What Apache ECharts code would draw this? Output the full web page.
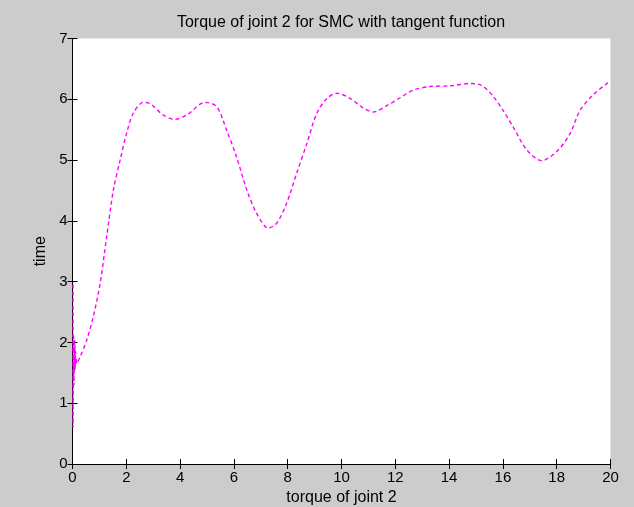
<!DOCTYPE html>
<html>
<head>
<meta charset="utf-8">
<script src="https://cdn.jsdelivr.net/npm/echarts@6/dist/echarts.min.js"></script>
<style>
  html, body { margin: 0; padding: 0; background: #cccccc; }
  #chart { width: 634px; height: 507px; }
</style>
</head>
<body>
<div id="chart"></div>
<script>
// Torque of joint 2 (x) against time (y), SMC with tangent switching function
var torque = [0.02, 0.02, 0.04, 0.05, 0.08, 0.03, 0.10, 0.06, 0.12, 0.09, 0.14, 0.15,
  0.28, 0.53, 0.77, 1.02, 1.27, 1.52, 1.77, 2.01, 2.26, 2.63, 2.88, 3.38, 3.81, 4.24,
  4.93, 5.36, 5.73, 6.10, 6.48, 6.85, 7.28, 7.59, 7.96, 8.33, 8.71, 9.08, 9.45, 9.82,
  10.3, 10.8, 11.18, 11.7, 12.2, 12.66, 13.29, 14.04, 14.78, 15.2, 15.6, 16.0, 16.4,
  16.9, 17.44, 18.0, 18.5, 18.87, 19.35, 19.9, 20.0];
var time = [2.95, 0.6, 2.1, 1.3, 2.05, 1.45, 1.95, 1.5, 1.85, 1.55, 1.75, 1.65,
  1.76, 2.04, 2.42, 2.95, 3.74, 4.51, 5.0, 5.44, 5.77, 5.95, 5.93, 5.74, 5.67, 5.74,
  5.95, 5.88, 5.49, 5.05, 4.51, 4.12, 3.88, 3.96, 4.29, 4.78, 5.27, 5.77, 6.01, 6.10,
  6.02, 5.86, 5.79, 5.90, 6.03, 6.15, 6.21, 6.22, 6.26, 6.23, 6.07, 5.82, 5.53,
  5.16, 4.99, 5.14, 5.44, 5.82, 6.07, 6.27, 6.29];

var xTicks = [0, 2, 4, 6, 8, 10, 12, 14, 16, 18, 20];
var yTicks = [0, 1, 2, 3, 4, 5, 6, 7];

var points = torque.map(function (t, i) { return [t, time[i]]; });

var font = 'Liberation Sans, Arial, Helvetica, sans-serif';
var chart = echarts.init(document.getElementById('chart'));

function xAxisCfg(pos, showLabels) {
  return {
    type: 'value', position: pos, min: xTicks[0], max: xTicks[xTicks.length - 1], interval: 2,
    axisLine: { show: true, lineStyle: { color: '#000', width: 1 } },
    axisTick: { show: true, inside: true, length: 5, lineStyle: { color: '#000' } },
    axisLabel: { show: showLabels, color: '#000', fontSize: 15, fontFamily: font, margin: 6 },
    splitLine: { show: false },
    name: showLabels ? 'torque of joint 2' : '',
    nameLocation: 'middle', nameGap: 25,
    nameTextStyle: { color: '#000', fontSize: 16, fontFamily: font }
  };
}
function yAxisCfg(pos, showLabels) {
  return {
    type: 'value', position: pos, min: yTicks[0], max: yTicks[yTicks.length - 1], interval: 1,
    axisLine: { show: true, lineStyle: { color: '#000', width: 1 } },
    axisTick: { show: true, inside: true, length: 5, lineStyle: { color: '#000' } },
    axisLabel: { show: showLabels, color: '#000', fontSize: 15, fontFamily: font, margin: 5 },
    splitLine: { show: false },
    name: showLabels ? 'time' : '',
    nameLocation: 'middle', nameGap: 24, nameRotate: 90,
    nameTextStyle: { color: '#000', fontSize: 16, fontFamily: font }
  };
}

chart.setOption({
  backgroundColor: '#cccccc',
  animation: false,
  title: {
    text: 'Torque of joint 2 for SMC with tangent function',
    left: 336, top: 10, textAlign: 'center',
    textStyle: { color: '#000', fontSize: 16, fontWeight: 'normal', fontFamily: font }
  },
  grid: {
    left: 72.5, right: 23.5, top: 38.5, bottom: 43,
    outerBoundsMode: 'none', containLabel: false,
    show: true, backgroundColor: '#ffffff', borderWidth: 0
  },
  xAxis: [xAxisCfg('bottom', true), xAxisCfg('top', false)],
  yAxis: [yAxisCfg('left', true), yAxisCfg('right', false)],
  series: [{
    type: 'line',
    data: points,
    showSymbol: false,
    smooth: 0.3,
    lineStyle: { color: '#ff00ff', width: 1.4, type: [4, 3] }
  }]
});
</script>
</body>
</html>
